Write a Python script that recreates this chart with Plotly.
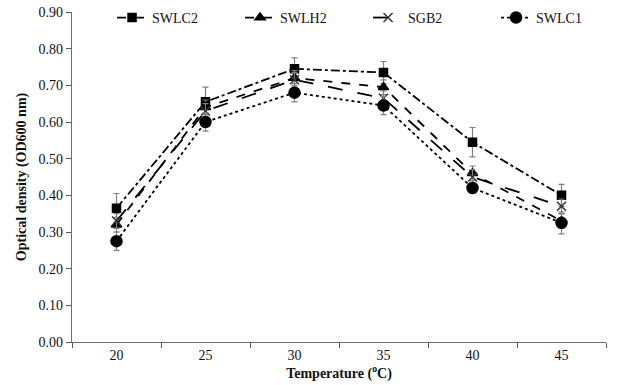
import plotly.graph_objects as go

temps = ["20", "25", "30", "35", "40", "45"]
swlc2 = [0.365, 0.655, 0.745, 0.735, 0.545, 0.400]
swlc2_err = [0.040, 0.040, 0.030, 0.030, 0.040, 0.030]
swlh2 = [0.320, 0.640, 0.720, 0.695, 0.460, 0.330]
swlh2_err = [0.020, 0.020, 0.020, 0.020, 0.020, 0.020]
sgb2 = [0.330, 0.630, 0.715, 0.665, 0.450, 0.370]
sgb2_err = [0.020, 0.020, 0.020, 0.020, 0.020, 0.020]
swlc1 = [0.275, 0.600, 0.680, 0.645, 0.420, 0.325]
swlc1_err = [0.025, 0.025, 0.025, 0.025, 0.015, 0.030]

series = [
    ("SWLC2", swlc2, swlc2_err, "dashdot", "square", 8, "black"),
    ("SWLH2", swlh2, swlh2_err, "dash", "triangle-up", 9, "black"),
    ("SGB2", sgb2, sgb2_err, "longdash", "x-thin-open", 9, "#333333"),
    ("SWLC1", swlc1, swlc1_err, "dot", "circle", 11, "black"),
]

fig = go.Figure()
for name, y, err, dash, sym, size, mcol in series:
    fig.add_trace(go.Scatter(
        x=temps, y=y, name=name, mode="lines+markers",
        line=dict(color="black", width=1.8, dash=dash),
        marker=dict(symbol=sym, size=size, color=mcol,
                    line=dict(color=mcol, width=1.5)),
        error_y=dict(type="data", array=err, visible=True,
                     color="#808080", thickness=1.2, width=3),
    ))

font = "Liberation Serif, Times New Roman, serif"
fig.update_layout(
    width=624, height=385,
    margin=dict(l=72, r=18, t=12, b=43, autoexpand=False),
    paper_bgcolor="white", plot_bgcolor="white",
    font=dict(family=font, size=14, color="#111111"),
    showlegend=True,
    legend=dict(orientation="h", x=0.075, xanchor="left", y=0.982,
                yanchor="middle", font=dict(size=14), bgcolor="rgba(0,0,0,0)",
                entrywidth=83, entrywidthmode="pixels", tracegroupgap=0),
    xaxis=dict(type="category", range=[-0.5, 5.5], tickson="boundaries",
               ticks="outside", ticklen=5, tickcolor="#555555", showline=True,
               linecolor="#6e6e6e", linewidth=1.2, showgrid=False,
               zeroline=False, tickfont=dict(size=14),
               title=dict(text="<b>Temperature (<sup>o</sup>C)</b>",
                          font=dict(size=14), standoff=0)),
    yaxis=dict(range=[0, 0.9], dtick=0.1, tickformat=".2f",
               ticks="outside", ticklen=5, tickcolor="#555555",
               showline=True, linecolor="#6e6e6e", linewidth=1.2,
               showgrid=False, zeroline=False, tickfont=dict(size=14),
               title=dict(text="<b>Optical density (OD600 nm)</b>",
                          font=dict(size=14), standoff=8)),
)
fig.write_html("out.html")
